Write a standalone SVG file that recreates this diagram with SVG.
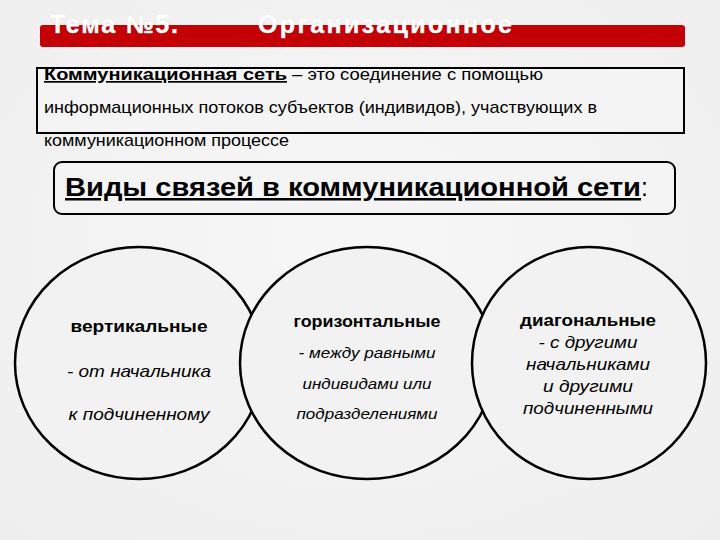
<svg xmlns="http://www.w3.org/2000/svg" width="720" height="540" viewBox="0 0 720 540">
  <defs>
    <radialGradient id="bg" cx="50%" cy="45%" r="75%">
      <stop offset="0" stop-color="#f7f7f7"/>
      <stop offset="1" stop-color="#eeeeee"/>
    </radialGradient>
    <clipPath id="titleClip">
      <rect x="0" y="15" width="720" height="32"/>
    </clipPath>
    <style>
      .title { font-family: "Liberation Sans", Arial, sans-serif; font-size: 25px; font-weight: bold; fill: #ffffff; stroke: #dddddd; stroke-width: 0.5; paint-order: stroke; }
      .def { font-family: "Liberation Sans", Arial, sans-serif; font-size: 17px; fill: #000; }
      .head { font-family: "Liberation Sans", Arial, sans-serif; font-size: 25px; font-weight: bold; fill: #000; }
      .circ { fill: #f2f2f2; stroke: #000; stroke-width: 2.5; }
      .lbl { font-family: "Liberation Sans", Arial, sans-serif; font-weight: bold; fill: #000; text-anchor: middle; }
      .it { font-family: "Liberation Sans", Arial, sans-serif; font-style: italic; fill: #000; text-anchor: middle; }
      .box { fill: #f4f4f4; stroke: #000; stroke-width: 2; }
    </style>
  </defs>
  <rect x="0" y="0" width="720" height="540" fill="url(#bg)"/>

  <g id="title">
    <rect x="40" y="25" width="645" height="22" rx="3" fill="#c20006"/>
    <g clip-path="url(#titleClip)">
      <text class="title" x="50" y="33" textLength="128" lengthAdjust="spacing">Тема №5.</text>
      <text class="title" x="258" y="33" textLength="254" lengthAdjust="spacing">Организационное</text>
    </g>
  </g>

  <g id="definition">
    <rect class="box" x="37" y="68" width="647" height="65"/>
    <text class="def" x="44" y="80"><tspan font-weight="bold" text-decoration="underline" textLength="243" lengthAdjust="spacingAndGlyphs">Коммуникационная сеть</tspan><tspan textLength="256" lengthAdjust="spacingAndGlyphs"> – это соединение  с помощью</tspan></text>
    <text class="def" x="44" y="113" textLength="553" lengthAdjust="spacingAndGlyphs">информационных потоков субъектов (индивидов), участвующих в</text>
    <text class="def" x="44" y="146" textLength="245" lengthAdjust="spacingAndGlyphs">коммуникационном процессе</text>
  </g>

  <g id="heading">
    <rect class="box" x="54" y="162" width="621" height="52" rx="8"/>
    <text class="head" x="65" y="196"><tspan text-decoration="underline" textLength="576" lengthAdjust="spacingAndGlyphs">Виды связей в коммуникационной сети</tspan><tspan font-weight="normal">:</tspan></text>
  </g>

  <g id="connectors"/>

  <g id="vertical">
    <ellipse class="circ" cx="139" cy="363" rx="124" ry="116"/>
    <text class="lbl" x="139" y="332" font-size="17" textLength="137" lengthAdjust="spacingAndGlyphs">вертикальные</text>
    <text class="it" x="139" y="377" font-size="17" textLength="144" lengthAdjust="spacingAndGlyphs">- от начальника</text>
    <text class="it" x="139" y="420" font-size="17" textLength="141" lengthAdjust="spacingAndGlyphs">к подчиненному</text>
  </g>

  <g id="horizontal">
    <ellipse class="circ" cx="367" cy="363" rx="127" ry="116"/>
    <text class="lbl" x="367" y="327" font-size="16" textLength="147" lengthAdjust="spacingAndGlyphs">горизонтальные</text>
    <text class="it" x="367" y="358" font-size="14" textLength="137" lengthAdjust="spacingAndGlyphs">- между равными</text>
    <text class="it" x="367" y="389" font-size="14" textLength="129" lengthAdjust="spacingAndGlyphs">индивидами или</text>
    <text class="it" x="367" y="419" font-size="14" textLength="141" lengthAdjust="spacingAndGlyphs">подразделениями</text>
  </g>

  <g id="diagonal">
    <ellipse class="circ" cx="589" cy="363" rx="117" ry="116"/>
    <text class="lbl" x="588" y="326" font-size="17" textLength="136" lengthAdjust="spacingAndGlyphs">диагональные</text>
    <text class="it" x="588" y="348" font-size="17" textLength="99" lengthAdjust="spacingAndGlyphs">- с другими</text>
    <text class="it" x="588" y="370" font-size="17" textLength="124" lengthAdjust="spacingAndGlyphs">начальниками</text>
    <text class="it" x="588" y="392" font-size="17" textLength="90" lengthAdjust="spacingAndGlyphs">и другими</text>
    <text class="it" x="588" y="414" font-size="17" textLength="130" lengthAdjust="spacingAndGlyphs">подчиненными</text>
  </g>
</svg>
